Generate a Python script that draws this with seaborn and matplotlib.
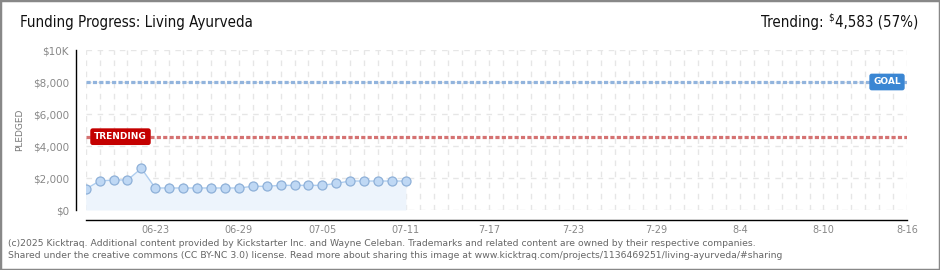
import matplotlib
matplotlib.use("Agg")
import matplotlib.pyplot as plt
import matplotlib.dates as mdates
from matplotlib.ticker import FixedLocator
from matplotlib.patches import Rectangle
import seaborn as sns
import pandas as pd

# ---------------- data ----------------
title = "Funding Progress: Living Ayurveda"
start_date = "2025-06-18"
end_date = "2025-08-16"
pledged = [1310, 1810, 1875, 1875, 2600, 1375, 1375, 1375, 1375, 1375, 1375, 1375,
           1480, 1480, 1540, 1540, 1540, 1540, 1667, 1810, 1810, 1810, 1810, 1810]
goal = 8000
trending = 4583
trending_pct = 57
tick_dates = ["2025-06-23", "2025-06-29", "2025-07-05", "2025-07-11", "2025-07-17",
              "2025-07-23", "2025-07-29", "2025-08-04", "2025-08-10", "2025-08-16"]
tick_labels = ["06-23", "06-29", "07-05", "07-11", "7-17", "7-23", "7-29", "8-4", "8-10", "8-16"]
y_ticks = [0, 2000, 4000, 6000, 8000, 10000]
y_labels = ["$0", "$2,000", "$4,000", "$6,000", "$8,000", "$10K"]
footer_lines = [
    "(c)2025 Kicktraq. Additional content provided by Kickstarter Inc. and Wayne Celeban. "
    "Trademarks and related content are owned by their respective companies.",
    "Shared under the creative commons (CC BY-NC 3.0) license. Read more about sharing this image "
    "at www.kicktraq.com/projects/1136469251/living-ayurveda/#sharing",
]

dates = pd.date_range(start_date, periods=len(pledged), freq="D")
df = pd.DataFrame({"date": dates, "pledged": pledged})

# ---------------- figure ----------------
sns.set_style("white")
plt.rcParams["font.family"] = ["DejaVu Sans"]
W, H = 940, 270
fig = plt.figure(figsize=(W / 100, H / 100), dpi=100)
fig.patch.set_facecolor("white")
ax = fig.add_axes([85.7 / W, 60 / H, (907 - 85.7) / W, 160 / H])

ax.fill_between(df["date"], 0, df["pledged"], color="#edf4fc", zorder=1, lw=0)
sns.lineplot(data=df, x="date", y="pledged", ax=ax, color="#aecdef", lw=1,
             marker="o", markersize=6.5, markerfacecolor="#bfd8f4",
             markeredgecolor="#8eb0d8", markeredgewidth=0.9, zorder=4)

ax.set_xlim(pd.Timestamp(start_date), pd.Timestamp(end_date))
ax.set_ylim(0, 10000)

# goal / trending lines
ax.axhline(goal, color="#92b4dd", lw=2.3, ls=(0, (1.3, 0.7)), zorder=3)
ax.axhline(trending, color="#d57272", lw=2.3, ls=(0, (1.3, 0.7)), zorder=3)

tr = ax.get_yaxis_transform()
ax.text((887 - 85.7) / 821.3, goal, "GOAL", transform=tr, ha="center", va="center",
        color="white", fontsize=6.5, fontweight="bold", zorder=6,
        bbox=dict(boxstyle="round,pad=0.35,rounding_size=0.2", fc="#3a86d3", ec="#3a86d3"))
ax.text((120.5 - 85.7) / 821.3, trending, "TRENDING", transform=tr, ha="center", va="center",
        color="white", fontsize=6.5, fontweight="bold", zorder=6,
        bbox=dict(boxstyle="round,pad=0.35,rounding_size=0.2", fc="#c40000", ec="#c40000"))

# grid
ax.xaxis.set_minor_locator(mdates.DayLocator())
ax.xaxis.set_major_locator(FixedLocator(mdates.date2num(pd.to_datetime(tick_dates))))
ax.set_xticklabels(tick_labels)
ax.yaxis.set_major_locator(FixedLocator(y_ticks))
ax.set_yticklabels(y_labels)
ax.yaxis.set_minor_locator(FixedLocator([1000, 3000, 5000, 7000, 9000]))
ax.grid(axis="x", which="both", color="#e6e6e6", ls=(0, (4, 4)), lw=1, zorder=0)
ax.grid(axis="y", which="major", color="#e6e6e6", ls=(0, (4, 4)), lw=1, zorder=0)
ax.set_axisbelow(True)

# spines
for s in ["top", "right"]:
    ax.spines[s].set_visible(False)
ax.spines["left"].set_position(("outward", 7))
ax.spines["bottom"].set_position(("outward", 7.3))
for s in ["left", "bottom"]:
    ax.spines[s].set_color("black")
    ax.spines[s].set_linewidth(1)

ax.tick_params(axis="x", which="both", direction="inout", length=4.5, width=1,
               color="black", labelsize=7, labelcolor="#888888", pad=1.5)
ax.tick_params(axis="y", which="major", direction="inout", length=4, width=1,
               color="black", labelsize=7.5, labelcolor="#888888", pad=3)
ax.tick_params(axis="y", which="minor", direction="out", length=2, width=1, color="#dd0000")
ax.set_xlabel("")
ax.set_ylabel("")

# texts
head_kw = dict(fontsize=10.8, family=["DejaVu Sans"], fontstretch="condensed", color="#111111")
fig.text(20 / W, 1 - 130 / H, "PLEDGED", rotation=90, ha="center", va="center",
         fontsize=6.5, color="#777777")
fig.text(20 / W, 1 - 22 / H, title, ha="left", va="center", **head_kw)

fig.canvas.draw()
renderer = fig.canvas.get_renderer()
t_main = fig.text(918 / W, 1 - 22 / H, f"{trending:,} ({trending_pct}%)", ha="right",
                  va="center", **head_kw)
bb = t_main.get_window_extent(renderer)
t_dollar = fig.text((bb.x0 - 0.5) / W, 1 - 18 / H, "$", ha="right", va="center",
                    fontsize=7, family=["DejaVu Sans"], fontstretch="condensed", color="#111111")
bb2 = t_dollar.get_window_extent(renderer)
fig.text((bb2.x0 - 5) / W, 1 - 22 / H, "Trending:", ha="right", va="center", **head_kw)

fig.text(8 / W, 1 - 243 / H, footer_lines[0], ha="left", va="center", fontsize=6.64, color="#666666")
fig.text(8 / W, 1 - 256 / H, footer_lines[1], ha="left", va="center", fontsize=6.64, color="#666666")

fig.patches.append(Rectangle((0, 0), 1, 1, transform=fig.transFigure, fill=False,
                             ec="#888888", lw=2.5, zorder=10))

fig.savefig("out.png", dpi=100)
